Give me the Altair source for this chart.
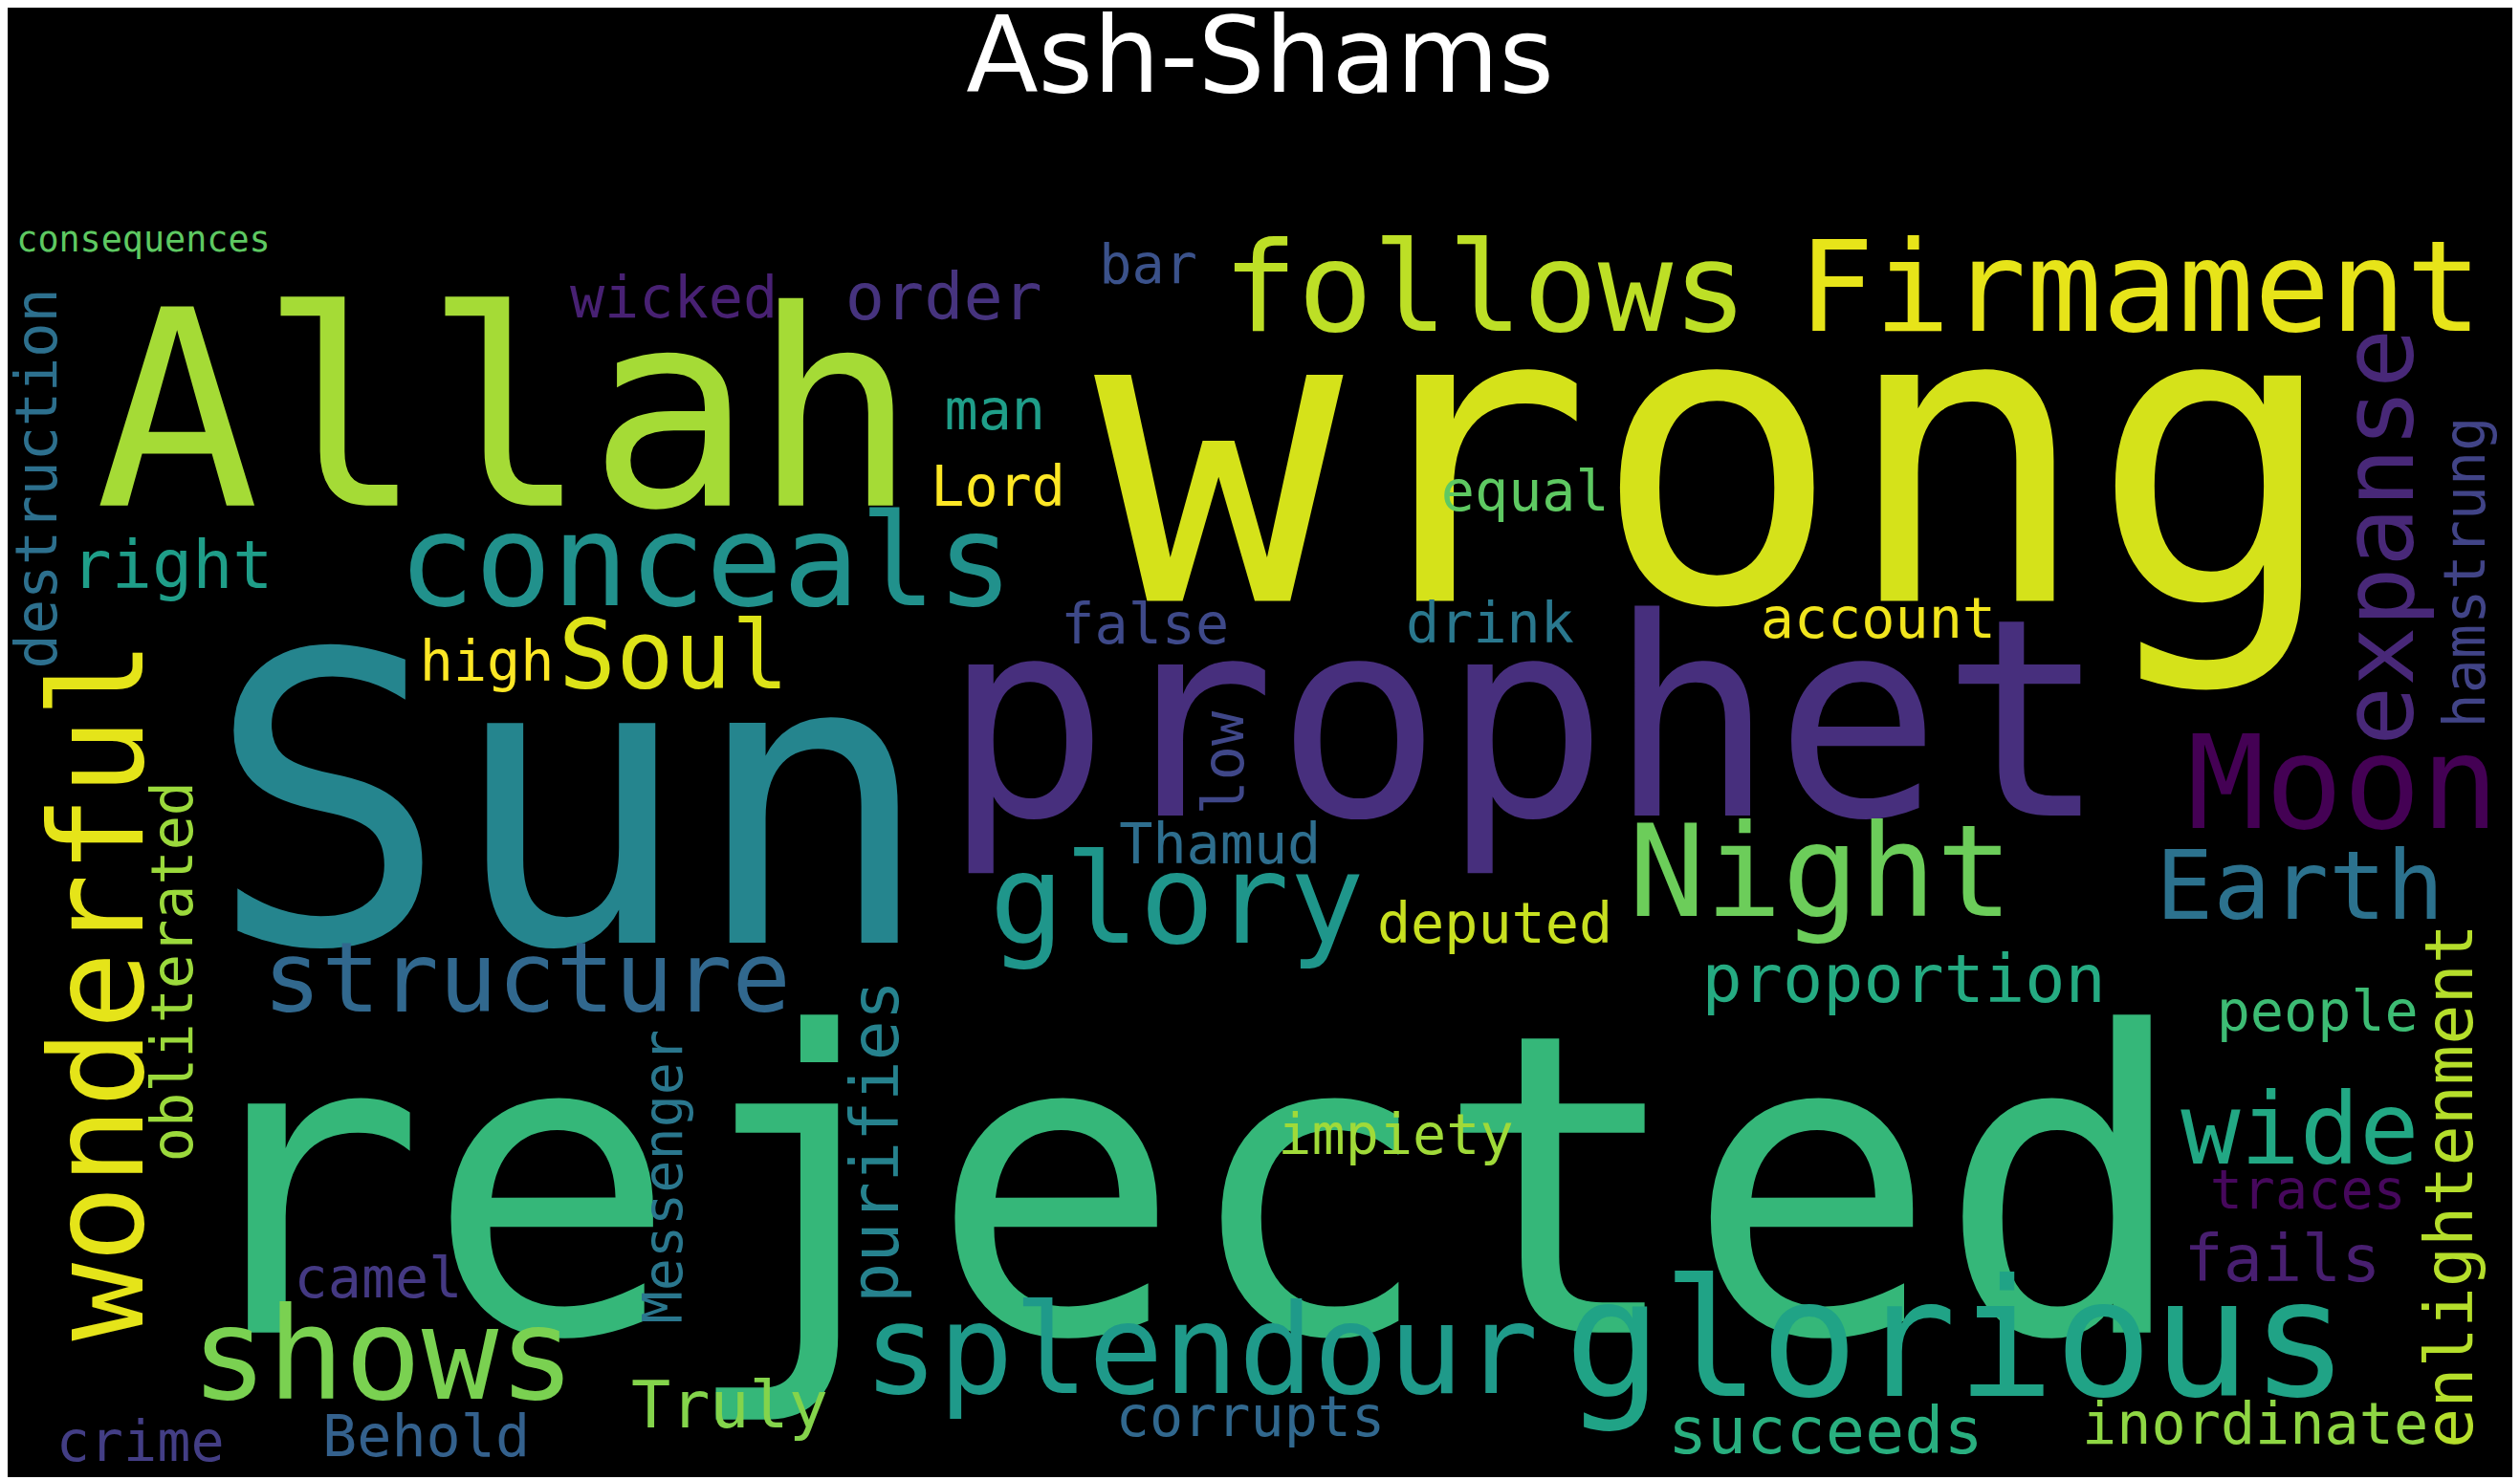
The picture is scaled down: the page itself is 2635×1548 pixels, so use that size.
import altair as alt
import pandas as pd

S = 2619 / 1568

words = ["wrong", "Sun", "rejected", "Allah", "prophet", "Firmament", "follows", "conceals",
         "glorious", "splendour", "shows", "Night", "Moon", "glory", "structure", "Earth",
         "wide", "Soul", "right", "order", "wicked", "bar", "man", "Lord", "equal", "high",
         "false", "drink", "account", "Thamud", "deputed", "proportion", "people", "impiety",
         "traces", "fails", "camel", "Truly", "corrupts", "succeeds", "inordinate", "crime",
         "Behold", "consequences"]
xs = [1070, 352, 735, 312, 950, 1335, 925, 437, 1220, 747, 235, 1135, 1462, 732, 325, 1435,
      1435, 417, 103, 586, 417, 714, 618, 620, 950, 300, 712, 928, 1171, 759, 931, 1187,
      1446, 869, 1440, 1424, 232, 452, 778, 1138, 1407, 83, 262, 85]
ys = [370, 585, 830, 310, 505, 200, 200, 373, 870, 868, 872, 568, 513, 585, 628, 570,
      724, 425, 362, 193, 192, 170, 262, 310, 313, 420, 397, 396, 393, 535, 585, 622,
      640, 718, 752, 798, 808, 890, 895, 906, 900, 911, 908, 150]
sizes = [259, 252, 262, 171, 173, 79, 78, 80, 102, 78, 80, 80, 81, 78, 61, 60, 62, 60,
         42, 41, 36, 34, 35, 35, 35, 35, 35, 35, 35, 35, 35, 42, 35, 35, 34, 41, 35, 41,
         35, 41, 36, 35, 36, 22]
colors = ["#d5e21a", "#25858e", "#35b779", "#a5db36", "#472f7d", "#e7e419", "#bddf26", "#21918c",
          "#20a386", "#1f9a8a", "#7ad151", "#6ccd5a", "#440154", "#1f968b", "#31688e", "#2c728e",
          "#22a884", "#dde318", "#1f9e89", "#46337e", "#482173", "#3b528b", "#1f9e89", "#fde725",
          "#5ec962", "#fde725", "#3e4989", "#2a788e", "#f1e51d", "#2e6e8e", "#c8e020", "#25ab82",
          "#3dbc74", "#a0da39", "#46085c", "#481f70", "#443983", "#84d44b", "#31688e", "#29af7f",
          "#8fd744", "#433e85", "#34618d", "#5ec962"]

vwords = ["wonderful", "expanse", "enlightenment", "hamstrung", "destruction", "obliterated",
          "Messenger", "purifies", "low"]
vxs = [60, 1487, 1530, 1540, 20, 105, 412, 545, 763]
vys = [615, 330, 738, 352, 293, 603, 732, 710, 472]
vsizes = [81, 62, 42, 36, 36, 36, 34, 42, 36]
vcolors = ["#e5e419", "#482878", "#b5de2b", "#414487", "#2d708e", "#9bd93c", "#2a778e",
           "#26828e", "#3f4788"]

h = pd.DataFrame({"word": words, "x": xs, "y": ys, "size": [s * S for s in sizes], "color": colors})
v = pd.DataFrame({"word": vwords, "x": vxs, "y": vys, "size": [s * S for s in vsizes], "color": vcolors})
t = pd.DataFrame({"word": ["Ash-Shams"], "x": [784], "y": [50], "size": [66 * S], "color": ["#ffffff"]})

xsc = alt.Scale(domain=[0, 1568], nice=False, zero=False)
ysc = alt.Scale(domain=[921, 0], nice=False, zero=False)


def enc(ch):
    return ch.encode(
        x=alt.X("x:Q", scale=xsc, axis=None),
        y=alt.Y("y:Q", scale=ysc, axis=None),
        size=alt.Size("size:Q", scale=None, legend=None),
        color=alt.Color("color:N", scale=None, legend=None),
        text="word:N",
    )


horiz = enc(alt.Chart(h).mark_text(font="DejaVu Sans Mono", baseline="alphabetic", align="center"))
vert = enc(alt.Chart(v).mark_text(font="DejaVu Sans Mono", baseline="middle", align="center", angle=270))
title = enc(alt.Chart(t).mark_text(font="DejaVu Sans", baseline="alphabetic", align="center"))

chart = (
    alt.layer(horiz, vert, title)
    .properties(width=2619, height=1532, background="black", padding=0)
    .configure_view(stroke=None)
)

chart.save("out.html", embed_options={"renderer": "svg", "actions": False})
